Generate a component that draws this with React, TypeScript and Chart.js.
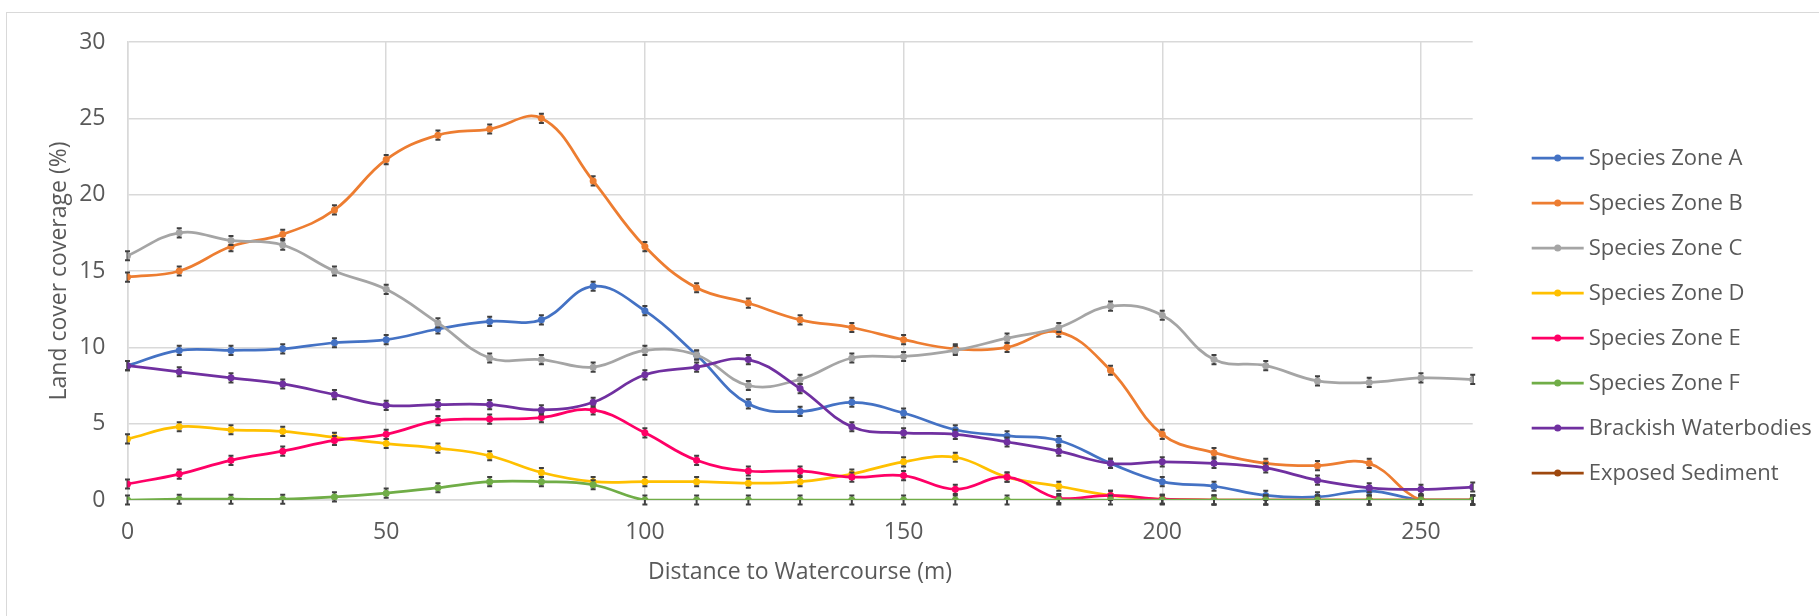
import React, { useEffect, useRef } from "react";
import { Chart, registerables } from "chart.js";

Chart.register(...registerables);

// Distance to watercourse (m)
const distances = [0, 10, 20, 30, 40, 50, 60, 70, 80, 90, 100, 110, 120, 130, 140, 150, 160, 170, 180, 190, 200, 210, 220, 230, 240, 250, 260];

// Land cover coverage (%)
const zoneA = [8.8, 9.8, 9.8, 9.9, 10.3, 10.5, 11.2, 11.7, 11.8, 14.0, 12.4, 9.5, 6.3, 5.8, 6.4, 5.7, 4.6, 4.2, 3.9, 2.4, 1.2, 0.9, 0.3, 0.2, 0.6, 0, 0];
const zoneB = [14.6, 15.0, 16.6, 17.4, 19.0, 22.3, 23.9, 24.3, 25.0, 20.9, 16.6, 13.9, 12.9, 11.8, 11.3, 10.5, 9.9, 10.0, 11.0, 8.5, 4.3, 3.1, 2.4, 2.25, 2.4, 0, 0];
const zoneC = [16.0, 17.5, 17.0, 16.7, 15.0, 13.8, 11.6, 9.3, 9.2, 8.7, 9.8, 9.5, 7.5, 7.9, 9.3, 9.4, 9.8, 10.6, 11.3, 12.7, 12.1, 9.2, 8.8, 7.8, 7.7, 8.0, 7.9];
const zoneD = [4.0, 4.8, 4.6, 4.5, 4.1, 3.7, 3.4, 2.9, 1.8, 1.2, 1.2, 1.2, 1.1, 1.2, 1.7, 2.5, 2.8, 1.5, 0.9, 0.3, 0.05, 0, 0, 0, 0, 0, 0];
const zoneE = [1.05, 1.7, 2.6, 3.2, 3.9, 4.3, 5.2, 5.3, 5.4, 5.9, 4.4, 2.6, 1.9, 1.9, 1.5, 1.6, 0.7, 1.5, 0.1, 0.3, 0.05, 0, 0, 0, 0, 0, 0];
const zoneF = [0, 0.05, 0.05, 0.05, 0.2, 0.45, 0.8, 1.2, 1.2, 1.0, 0, 0, 0, 0, 0, 0, 0, 0, 0, 0, 0, 0, 0, 0, 0, 0, 0];
const brackish = [8.8, 8.4, 8.0, 7.6, 6.9, 6.2, 6.25, 6.25, 5.9, 6.4, 8.2, 8.7, 9.2, 7.3, 4.8, 4.4, 4.3, 3.8, 3.2, 2.4, 2.5, 2.4, 2.1, 1.3, 0.8, 0.7, 0.85];
// No plotted values visible for exposed sediment (legend entry only)
const exposed: (number | null)[] = [null, null, null, null, null, null, null, null, null, null, null, null, null, null, null, null, null, null, null, null, null, null, null, null, null, null, null];

// Error bar half-length (%)
const errorMargin = 0.3;

const seriesNames = [
  "Species Zone A",
  "Species Zone B",
  "Species Zone C",
  "Species Zone D",
  "Species Zone E",
  "Species Zone F",
  "Brackish Waterbodies",
  "Exposed Sediment",
];
const seriesColors = ["#4472C4", "#ED7D31", "#A5A5A5", "#FFC000", "#FF0066", "#70AD47", "#7030A0", "#9E480E"];
const drawOrder = [8, 7, 6, 5, 4, 3, 2, 1];

const xTitle = "Distance to Watercourse (m)";
const yTitle = "Land cover coverage (%)";

const TEXT = "#595959";
const GRID = "#D9D9D9";
const FONT = "'Open Sans', 'Noto Sans', sans-serif";
const FS = 23;
const LEGEND_FS = 22;

export default function App() {
  const ref = useRef<HTMLCanvasElement>(null);

  useEffect(() => {
    const canvas = ref.current;
    if (!canvas) return;
    const seriesValues = [zoneA, zoneB, zoneC, zoneD, zoneE, zoneF, brackish, exposed];

    const datasets = seriesNames.map((name, i) => ({
      label: name,
      data: distances.map((d, j) => ({ x: d, y: seriesValues[i][j] })),
      borderColor: seriesColors[i],
      backgroundColor: seriesColors[i],
      pointBackgroundColor: seriesColors[i],
      pointBorderColor: seriesColors[i],
      pointRadius: 3.5,
      pointBorderWidth: 0,
      borderWidth: 2.75,
      tension: 0.4,
      order: drawOrder[i],
      fill: false,
    }));

    const errorBars = {
      id: "errorBars",
      beforeDatasetDraw(chart: any, args: any) {
        const ctx = chart.ctx;
        const ys = chart.scales.y;
        const ds = chart.data.datasets[args.index];
        ctx.save();
        ctx.strokeStyle = "#404040";
        ctx.lineWidth = 2;
        args.meta.data.forEach((pt: any, j: number) => {
          const v = ds.data[j].y;
          if (v == null) return;
          const x = pt.x;
          const y1 = ys.getPixelForValue(v + errorMargin);
          const y2 = ys.getPixelForValue(v - errorMargin);
          ctx.beginPath();
          ctx.moveTo(x, y1);
          ctx.lineTo(x, y2);
          ctx.moveTo(x - 2.5, y1);
          ctx.lineTo(x + 2.5, y1);
          ctx.moveTo(x - 2.5, y2);
          ctx.lineTo(x + 2.5, y2);
          ctx.stroke();
        });
        ctx.restore();
      },
    };

    const excelLegend = {
      id: "excelLegend",
      afterDraw(chart: any) {
        const ctx = chart.ctx;
        const x0 = chart.chartArea.right + 59;
        const top = 158;
        const gap = 45;
        ctx.save();
        chart.data.datasets.forEach((ds: any, i: number) => {
          const y = top + i * gap;
          ctx.strokeStyle = ds.borderColor;
          ctx.lineWidth = 2.75;
          ctx.beginPath();
          ctx.moveTo(x0, y);
          ctx.lineTo(x0 + 52, y);
          ctx.stroke();
          ctx.fillStyle = ds.borderColor;
          ctx.beginPath();
          ctx.arc(x0 + 26, y, 3.5, 0, Math.PI * 2);
          ctx.fill();
          ctx.fillStyle = TEXT;
          ctx.font = `${LEGEND_FS}px ${FONT}`;
          ctx.textAlign = "left";
          ctx.textBaseline = "middle";
          ctx.fillText(ds.label, x0 + 57, y + 1);
        });
        ctx.restore();
      },
    };

    const chart = new Chart(canvas, {
      type: "line",
      data: { datasets: datasets as any },
      plugins: [errorBars, excelLegend],
      options: {
        animation: false,
        responsive: false,
        maintainAspectRatio: false,
        devicePixelRatio: 1,
        layout: { padding: { left: 0, top: 42, right: 346.3, bottom: 0 } },
        plugins: {
          legend: { display: false },
          tooltip: { enabled: false },
        },
        scales: {
          x: {
            type: "linear",
            min: 0,
            max: 260,
            ticks: {
              stepSize: 50,
              includeBounds: false,
              padding: 19,
              color: TEXT,
              font: { family: FONT, size: FS },
            },
            grid: { color: GRID, lineWidth: 1.5, drawTicks: false },
            border: { color: GRID, width: 1.5 },
            title: {
              display: true,
              text: xTitle,
              color: TEXT,
              font: { family: FONT, size: FS },
              padding: { top: 0, bottom: 30 },
            },
            afterFit(scale: any) {
              scale.height = 116;
            },
          },
          y: {
            min: 0,
            max: 30,
            ticks: {
              stepSize: 5,
              padding: 22,
              color: TEXT,
              font: { family: FONT, size: FS },
            },
            grid: { color: GRID, lineWidth: 1.5, drawTicks: false },
            border: { color: GRID, width: 1.5 },
            title: {
              display: true,
              text: yTitle,
              color: TEXT,
              font: { family: FONT, size: FS },
              padding: { top: 46, bottom: 0 },
            },
            afterFit(scale: any) {
              scale.width = 127.5;
            },
          },
        },
      } as any,
    });

    return () => chart.destroy();
  }, []);

  return (
    <div style={{ position: "fixed", left: 0, top: 0, width: 1819, height: 616, background: "#fff", overflow: "hidden" }}>
      <div
        style={{
          position: "absolute",
          left: 6,
          top: 12,
          width: 1840,
          height: 700,
          border: `1.5px solid ${GRID}`,
          boxSizing: "border-box",
        }}
      />
      <canvas ref={ref} width={1819} height={616} style={{ position: "absolute", left: 0, top: 0 }} />
    </div>
  );
}
